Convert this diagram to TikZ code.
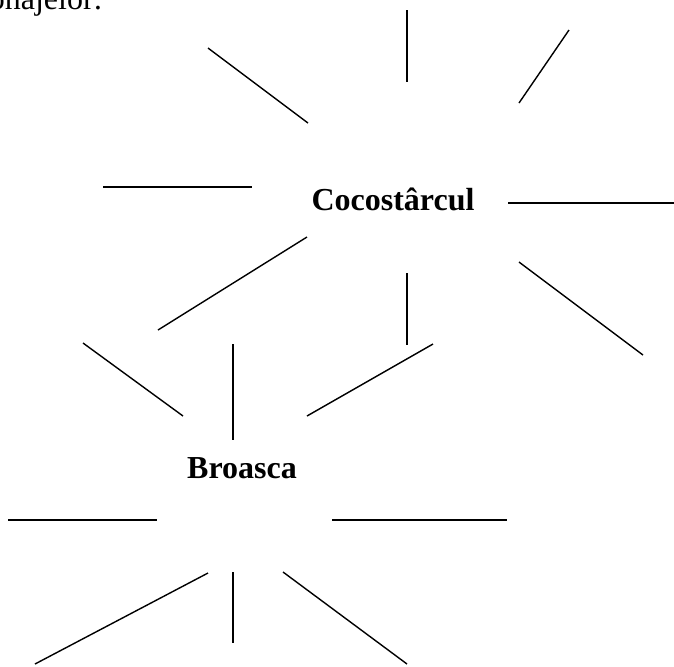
\documentclass[tikz,border=0pt]{standalone}
\usepackage{fontspec}
\setmainfont{Liberation Serif}
\begin{document}
\begin{tikzpicture}[x=0.5pt,y=-0.5pt,
  ray/.style={line width=0.7pt,black},
  lbl/.style={font=\fontsize{16}{19}\selectfont\bfseries,inner sep=0pt,anchor=base},
  txt/.style={font=\fontsize{16}{19}\selectfont,inner sep=0pt,anchor=base east}]
\useasboundingbox (0,0) rectangle (674,666);
\clip (0,0) rectangle (674,666);
\node[txt] (head) at (103,9) {onajelor:};
\node[lbl] (coco) at (393,210) {Cocostârcul};
\node[lbl] (broa) at (242,478) {Broasca};
\draw[ray] (208,48) -- (308,123);
\draw[ray] (407,10) -- (407,82);
\draw[ray] (569,30) -- (519,103);
\draw[ray] (103,187) -- (252,187);
\draw[ray] (508,203) -- (674,203);
\draw[ray] (307,237) -- (158,330);
\draw[ray] (407,273) -- (407,345);
\draw[ray] (519,262) -- (643,355);
\draw[ray] (83,343) -- (183,416);
\draw[ray] (233,344) -- (233,440);
\draw[ray] (433,344) -- (307,416);
\draw[ray] (8,520) -- (157,520);
\draw[ray] (332,520) -- (507,520);
\draw[ray] (208,573) -- (35,664);
\draw[ray] (233,572) -- (233,643);
\draw[ray] (283,572) -- (407,664);
\end{tikzpicture}
\end{document}
